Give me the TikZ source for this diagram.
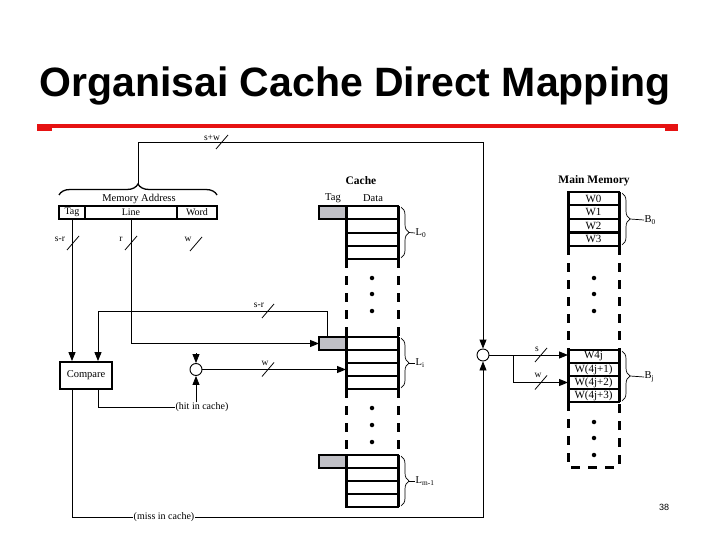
\documentclass[tikz,border=0pt]{standalone}
\usepackage{fontspec}
\setmainfont{Liberation Serif}
\newfontfamily\titlefont{Liberation Sans}
\usetikzlibrary{arrows.meta,decorations.pathreplacing,calc}
\definecolor{redbar}{RGB}{230,18,18}
\definecolor{tagfill}{RGB}{192,192,198}
\newcommand\wireslash[2]{\draw[slashm] (#1-6,#2+7) -- (#1+6,#2-7);}
\begin{document}
\begin{tikzpicture}[x=1pt,y=-1pt,
  conn/.style={line width=0.9pt},
  arr/.style={conn,-{Triangle[length=9pt,width=7pt]}},
  wall/.style={line width=3pt},
  dwall/.style={line width=3pt,dash pattern=on 9pt off 8pt},
  cellbox/.style={draw,line width=2pt,minimum width=52pt,minimum height=13pt,inner sep=0pt,outer sep=0pt},
  memcell/.style={cellbox,minimum width=51pt,font=\fontsize{11}{12}\selectfont},
  tagbox/.style={draw,line width=1.5pt,fill=tagfill,minimum width=27pt,minimum height=13pt,inner sep=0pt,outer sep=0pt},
  lbl/.style={font=\fontsize{9.5}{10}\selectfont,inner sep=0.5pt},
  txt/.style={font=\fontsize{10.5}{12}\selectfont,inner sep=0pt},
  head/.style={font=\bfseries\fontsize{11.5}{13}\selectfont,inner sep=0pt},
  brc/.style={decorate,decoration={brace,amplitude=8pt},line width=0.7pt},
  brcbig/.style={decorate,decoration={brace,amplitude=11pt},line width=1.3pt},
  dotc/.style={circle,fill,inner sep=0pt,minimum size=4.5pt},
  slashm/.style={line width=0.8pt},
  junc/.style={circle,draw,line width=0.9pt,minimum size=12pt,inner sep=0pt},
  fld/.style={draw,line width=2pt,minimum height=13pt,inner sep=0pt,outer sep=0pt,font=\fontsize{10}{12}\selectfont},
  lsub/.style={font=\fontsize{10.5}{12}\selectfont,inner sep=0.5pt,anchor=west},
]
\useasboundingbox (0,0) rectangle (720,540);

% title and bar
\node[font=\titlefont\bfseries\fontsize{41}{44}\selectfont,anchor=base,inner sep=0pt] (title) at (355,97) {Organisai Cache Direct Mapping};
\fill[redbar] (37,124) rectangle (678,128);
\fill[redbar] (37,124) rectangle (52,131);
\fill[redbar] (665,124) rectangle (678,131);

% memory address
\node[fld,minimum width=26pt] (ftag) at (72,212.5) {Tag};
\node[fld,minimum width=92pt] (fline) at (131,212.5) {Line};
\node[fld,minimum width=40pt] (fword) at (197,212.5) {Word};
\node[txt] (maddr) at (139,199) {Memory Address};
\draw[brcbig] (59,195) -- (217,195);
\coordinate (btip) at (138,184);
\coordinate (topbend) at (138,142);

% junctions and compare
\node[junc] (cR) at (483,355) {};
\node[junc] (cL) at (196,369.5) {};
\node[draw,line width=1.8pt,minimum width=52pt,minimum height=27pt,txt] (cmp) at (86,375.5) {Compare};

% cache
\node[head] (hcache) at (361,181) {Cache};
\node[txt] (htag) at (333,198) {Tag};
\node[txt] (hdata) at (373,198) {Data};
\foreach \n/\y in {0/206,1/219.25,2/232.5,3/245.75}
  \node[cellbox,minimum height=13.25pt,anchor=north west] (Lz\n) at (346,\y) {};
\foreach \n/\y in {0/337,1/350,2/363,3/376}
  \node[cellbox,anchor=north west] (Li\n) at (346,\y) {};
\foreach \n/\y in {0/455,1/468,2/481,3/494}
  \node[cellbox,anchor=north west] (Lm\n) at (346,\y) {};
\node[tagbox,anchor=north east] (tag0) at (346,206) {};
\node[tagbox,anchor=north east] (tagi) at (346,337) {};
\node[tagbox,anchor=north east] (tagm) at (346,455) {};
\foreach \a/\b in {206/259,337/389,455/507} {
  \draw[wall] (346,\a) -- (346,\b);
  \draw[wall] (398,\a) -- (398,\b);
}
\foreach \a/\b in {259/337,389/455} {
  \draw[dwall] (346,\a) -- (346,\b);
  \draw[dwall] (398,\a) -- (398,\b);
}
\foreach \y in {278,294,311,408,425,442}
  \node[dotc] at (372,\y) {};
\draw[brc] (401,207) -- (401,258);
\node[lsub] (l0) at (415,233) {L\textsubscript{0}};
\draw[line width=0.7pt] (409,232.5) -- (l0.west);
\draw[brc] (401,338) -- (401,388);
\node[lsub] (li) at (415,363) {L\textsubscript{i}};
\draw[line width=0.7pt] (409,363) -- (li.west);
\draw[brc] (401,456) -- (401,506);
\node[lsub] (lm) at (415,481) {L\textsubscript{m-1}};
\draw[line width=0.7pt] (409,481) -- (lm.west);

% main memory
\node[head] (hmm) at (594,181) {Main Memory};
\foreach \n/\t/\y in {0/W0/192,1/W1/205.5,2/W2/219,3/W3/232.5}
  \node[memcell,minimum height=13.5pt,anchor=north west] (Mz\n) at (568,\y) {\t};
\foreach \n/\t/\y in {0/W4j/350,1/W(4j+1)/363,2/W(4j+2)/376,3/W(4j+3)/389}
  \node[memcell,anchor=north west] (Mj\n) at (568,\y) {\t};
\draw[wall] (568,192) -- (568,246);
\draw[wall] (619,192) -- (619,246);
\draw[wall] (568,350) -- (568,402);
\draw[wall] (619,350) -- (619,402);
\draw[dwall] (568,246) -- (568,350);
\draw[dwall] (619,246) -- (619,350);
\draw[dwall] (568,402) -- (568,467) -- (619,467) -- (619,402);
\foreach \y in {278,294,311,422,438,455}
  \node[dotc] at (594,\y) {};
\draw[brc] (622,193) -- (622,245);
\node[lsub] (b0) at (644,220) {B\textsubscript{0}};
\draw[line width=0.7pt] (630,219) -- (b0.west);
\draw[brc] (622,351) -- (622,401);
\node[lsub] (bj) at (644,377) {B\textsubscript{j}};
\draw[line width=0.7pt] (630,376) -- (bj.west);

% connectors
\draw[arr] (btip) -- (topbend) -| (cR.north);
\node[lbl,anchor=south] (lsw) at (212,141) {s+w};
\wireslash{222}{142}

\draw[arr] (ftag.south) -- (ftag.south |- cmp.north);
\node[lbl] (lsr1) at (60,239) {s-r};
\wireslash{73}{243}
\node[lbl] (lr) at (121,239) {r};
\wireslash{131}{243}
\node[lbl] (lw1) at (188,239) {w};
\wireslash{196}{244}

\coordinate (tagtap) at ($(tagi.north west)+(8,0)$);
\coordinate (bendA) at (98,311);
\coordinate (cmpB) at (bendA |- cmp.north);
\draw[arr] (tagtap) |- (bendA) -- (cmpB);
\node[lbl] (lsr2) at (259,305) {s-r};
\wireslash{268}{311}

\draw[arr] (fline.south) |- (tagi.west);

\draw[arr] (cL.east) -- (Li2.west);
\node[lbl] (lw2) at (265,363) {w};
\wireslash{268}{369.5}
\coordinate (wtap) at (196,353);
\draw[arr] (wtap) -- (cL.north);

\coordinate (cmpO1) at (ftag.south |- cmp.south);
\coordinate (cmpO2) at (cmpB |- cmp.south);
\node[lbl,fill=white,font=\fontsize{10}{12}\selectfont] (hit) at (202,407.5) {(hit in cache)};
\draw[conn] (cmpO2) |- (hit.west);
\draw[arr] (hit.north -| cL.south) -- (cL.south);
\node[lbl,fill=white,font=\fontsize{10}{12}\selectfont] (miss) at (164,517) {(miss in cache)};
\draw[conn] (cmpO1) |- (miss.west);
\draw[arr] (miss.east) -| (cR.south);

\coordinate (split) at (513,355);
\draw[arr] (cR.east) -- (cR.east -| Mj0.west);
\draw[arr] (split) |- (Mj2.west);
\node[lbl] (ls) at (537,349) {s};
\wireslash{541}{355}
\node[lbl] (lw3) at (538,375) {w};
\wireslash{541}{382.5}

\node[font=\titlefont\fontsize{9}{10}\selectfont,inner sep=0pt] (pg) at (664,507) {38};
\end{tikzpicture}
\end{document}
